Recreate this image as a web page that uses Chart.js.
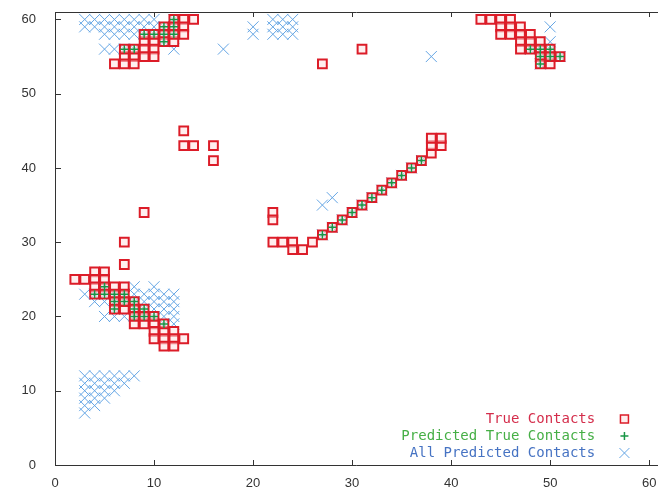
<!DOCTYPE html>
<html>
<head>
<meta charset="utf-8">
<script src="https://cdn.jsdelivr.net/npm/chart.js@4/dist/chart.umd.min.js"></script>
<style>
  html, body { margin: 0; padding: 0; background: #ffffff; }
  #wrap { width: 658px; height: 488px; }
</style>
</head>
<body>
<div id="wrap"><canvas id="c" width="658" height="488"></canvas></div>
<script>
// ---- data ----
const seriesLabels = ['True Contacts', 'Predicted True Contacts', 'All Predicted Contacts'];
const xTickValues = [0, 10, 20, 30, 40, 50, 60];
const yTickValues = [0, 10, 20, 30, 40, 50, 60];

// red squares: true contacts that were NOT predicted
const trueOnly = [
  [13,60],[14,60],[13,59],[13,58],[9,57],[10,57],[12,57],[9,56],[10,56],
  [7,55],[8,55],[9,55],[10,55],[6,54],[7,54],[8,54],
  [27,54],[31,56],
  [13,45],[13,43],[14,43],[16,43],[16,41],[9,34],[7,30],[7,27],
  [4,26],[5,26],[2,25],[3,25],[4,25],[5,25],[4,24],[6,24],[7,24],
  [7,21],[9,19],[10,19],[8,19],[10,18],[11,18],[12,18],
  [10,17],[11,17],[12,17],[13,17],[11,16],[12,16],
  [22,34],[22,33],[22,30],[23,30],[24,30],[24,29],[25,29],[26,30],
  [38,42],[38,43],[39,43],[38,44],[39,44],
  [43,60],[44,60],[45,60],[46,60],[45,59],[46,59],[47,59],
  [45,58],[46,58],[47,58],[48,58],[47,57],[48,57],[49,57],[47,56],[50,54]
];

// green plus: contacts that were predicted and are true
const predictedTrue = [
  [12,60],[11,59],[12,59],[9,58],[10,58],[11,58],[12,58],[11,57],[7,56],[8,56],
  [5,24],[4,23],[5,23],[6,23],[7,23],[6,22],[7,22],[8,22],[6,21],[8,21],[9,21],
  [8,20],[9,20],[10,20],[11,19],
  [27,31],[28,32],[29,33],[30,34],[31,35],[32,36],[33,37],[34,38],[35,39],[36,40],[37,41],
  [48,56],[49,56],[50,56],[49,55],[50,55],[51,55],[49,54]
];

// blue x: predicted contacts that are false
const predictedFalse = [
  [3,60],[4,60],[5,60],[6,60],[7,60],[8,60],[9,60],[10,60],
  [3,59],[4,59],[5,59],[6,59],[7,59],[8,59],[9,59],[10,59],
  [5,58],[6,58],[7,58],[8,58],[5,56],[6,56],[12,56],
  [17,56],[20,59],[20,58],
  [22,60],[23,60],[24,60],[22,59],[23,59],[24,59],[22,58],[23,58],[24,58],
  [38,55],[50,59],[50,57],[27,35],[28,36],
  [3,23],[4,22],[5,22],[5,20],[6,20],[7,20],
  [8,24],[10,24],[8,23],[9,23],[10,23],[11,23],[12,23],
  [9,22],[10,22],[11,22],[12,22],[10,21],[11,21],[12,21],[11,20],[12,20],[12,19],
  [3,12],[4,12],[5,12],[6,12],[7,12],[8,12],
  [3,11],[4,11],[5,11],[6,11],[7,11],
  [3,10],[4,10],[5,10],[6,10],
  [3,9],[4,9],[5,9],
  [3,8],[4,8],
  [3,7]
];

// ---- derived series ----
const toPts = arr => arr.map(p => ({ x: p[0], y: p[1] }));
const trueContacts = trueOnly.concat(predictedTrue);
const allPredicted = predictedFalse.concat(predictedTrue);

const RED = 'rgb(220,28,40)';
const GREEN = 'rgb(25,150,70)';
const BLUE = 'rgb(100,165,228)';
const TXT_RED = 'rgb(212,45,75)';
const TXT_GREEN = 'rgb(70,175,70)';
const TXT_BLUE = 'rgb(70,115,195)';

const frame = {
  id: 'frame',
  afterDraw(chart) {
    const ctx = chart.ctx;
    const a = chart.chartArea;
    const xs = chart.scales.x, ys = chart.scales.y;
    const W = chart.width;
    ctx.save();
    ctx.strokeStyle = '#333';
    ctx.lineWidth = 1;
    ctx.beginPath();
    ctx.moveTo(a.left + 0.5, a.top + 0.5);
    ctx.lineTo(a.left + 0.5, a.bottom + 0.5);
    ctx.lineTo(W, a.bottom + 0.5);
    ctx.moveTo(a.left, a.top + 0.5);
    ctx.lineTo(W, a.top + 0.5);
    xTickValues.forEach(v => {
      const px = Math.round(xs.getPixelForValue(v)) + 0.5;
      ctx.moveTo(px, a.bottom); ctx.lineTo(px, a.bottom - 5);
      ctx.moveTo(px, a.top); ctx.lineTo(px, a.top + 5);
    });
    yTickValues.forEach(v => {
      const py = Math.round(ys.getPixelForValue(v)) + 0.5;
      ctx.moveTo(a.left, py); ctx.lineTo(a.left + 6, py);
    });
    ctx.stroke();

    // key inside plot, bottom right
    const textRight = xs.getPixelForValue(54.55);
    const markX = xs.getPixelForValue(57.5);
    const rows = [
      { label: chart.data.datasets[1].label, color: TXT_RED, mark: 'square' },
      { label: chart.data.datasets[0].label, color: TXT_GREEN, mark: 'plus' },
      { label: chart.data.datasets[2].label, color: TXT_BLUE, mark: 'x' }
    ];
    ctx.font = '14px "DejaVu Sans Mono", monospace';
    ctx.textAlign = 'right';
    ctx.textBaseline = 'middle';
    rows.forEach((r, i) => {
      const y = a.bottom - 46 + i * 17;
      ctx.fillStyle = r.color;
      ctx.fillText(r.label, textRight, y);
      ctx.beginPath();
      if (r.mark === 'square') {
        ctx.strokeStyle = RED; ctx.lineWidth = 1.5;
        ctx.fillStyle = 'rgba(255,225,225,0.6)';
        ctx.rect(markX - 4, y - 4, 8, 8);
        ctx.fill(); ctx.stroke();
      } else if (r.mark === 'plus') {
        ctx.strokeStyle = GREEN; ctx.lineWidth = 1.5;
        ctx.moveTo(markX - 4, y); ctx.lineTo(markX + 4, y);
        ctx.moveTo(markX, y - 4); ctx.lineTo(markX, y + 4);
        ctx.stroke();
      } else {
        ctx.strokeStyle = BLUE; ctx.lineWidth = 1;
        ctx.moveTo(markX - 5, y - 5); ctx.lineTo(markX + 5, y + 5);
        ctx.moveTo(markX - 5, y + 5); ctx.lineTo(markX + 5, y - 5);
        ctx.stroke();
      }
    });
    ctx.restore();
  }
};

new Chart(document.getElementById('c'), {
  type: 'scatter',
  data: {
    datasets: [
      {
        label: seriesLabels[1],
        data: toPts(predictedTrue),
        pointStyle: 'cross', pointRadius: 4, borderWidth: 1.5,
        borderColor: GREEN, backgroundColor: GREEN, order: 0
      },
      {
        label: seriesLabels[0],
        data: toPts(trueContacts),
        pointStyle: 'rect', pointRadius: 6.2, borderWidth: 2,
        borderColor: RED, backgroundColor: 'rgba(255,225,225,0.55)', order: 1
      },
      {
        label: seriesLabels[2],
        data: toPts(allPredicted),
        pointStyle: 'crossRot', pointRadius: 7.8, borderWidth: 1,
        borderColor: BLUE, backgroundColor: BLUE, order: 2
      }
    ]
  },
  options: {
    responsive: false,
    animation: false,
    devicePixelRatio: 1,
    layout: { padding: { top: 12, right: 0, left: 0, bottom: 0 } },
    plugins: { legend: { display: false }, tooltip: { enabled: false } },
    elements: { point: { hoverRadius: 0 } },
    scales: {
      x: {
        type: 'linear', min: 0, max: 60,
        grid: { display: false },
        border: { display: false },
        afterFit: s => { s.height = 23; s.paddingLeft = 0; s.paddingRight = 0; },
        afterBuildTicks: s => { s.ticks = xTickValues.map(v => ({ value: v })); },
        ticks: { color: '#333', padding: 3, maxRotation: 0,
                 font: { family: '"Liberation Sans", Arial, sans-serif', size: 13 } }
      },
      y: {
        type: 'linear', min: 0, max: 61,
        grid: { display: false },
        border: { display: false },
        afterFit: s => { s.width = 55; s.paddingTop = 0; s.paddingBottom = 0; },
        afterBuildTicks: s => { s.ticks = yTickValues.map(v => ({ value: v })); },
        ticks: { color: '#333', padding: 11,
                 font: { family: '"Liberation Sans", Arial, sans-serif', size: 13 } }
      }
    }
  },
  plugins: [frame]
});
</script>
</body>
</html>
